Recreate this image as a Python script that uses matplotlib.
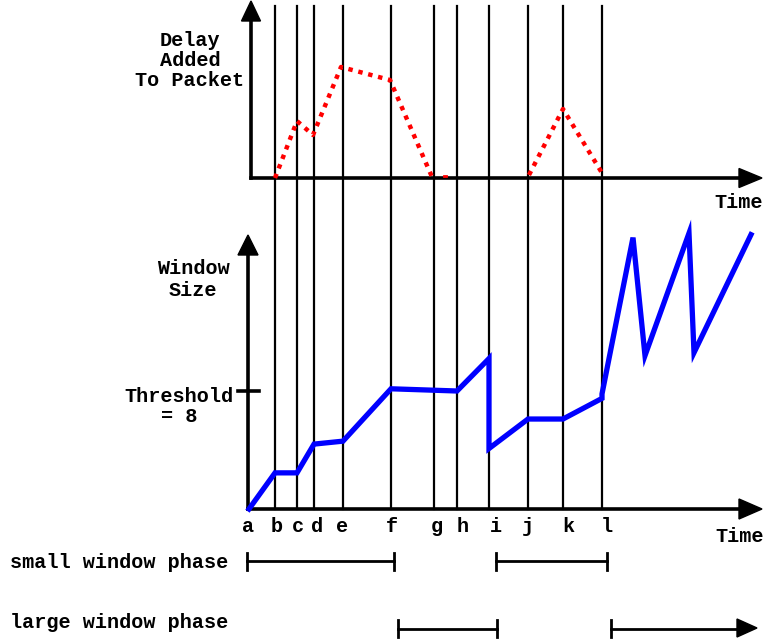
import numpy as np
import matplotlib
matplotlib.use("Agg")
import matplotlib.pyplot as plt

# event times (x position on the time axis) and their labels
events = ['a', 'b', 'c', 'd', 'e', 'f', 'g', 'h', 'i', 'j', 'k', 'l']
event_x = [249, 275, 297, 314, 343, 391, 434, 457, 489, 528, 563, 602]
label_x = [248, 277, 298, 317, 342, 392, 437, 463, 496, 528, 568, 607]

# delay added to packet (pixels above the top baseline), two bursts
delay1_t = [275, 297, 313, 341, 390, 432]
delay1_v = [0, 57, 43, 111, 98, 1]
delay2_t = [529, 563, 602]
delay2_v = [3, 69, 5]

# window size (segments), threshold = 8
win_t = [249, 275, 297, 314, 343, 391, 457, 489, 489, 528, 563, 602, 602, 633, 645, 689, 694, 751]
win_v = [0, 2.45, 2.45, 4.4, 4.6, 8.15, 8.0, 10.2, 4.1, 6.1, 6.1, 7.5, 7.8, 18.4, 10.4, 18.7, 10.6, 18.6]
threshold = 8

# phases
small_phase = [(247, 394), (496, 607)]
large_phase = [(398, 497), (611, 757)]

top_base = 178
bot_base = 509
px_per_seg = (bot_base - 391) / threshold

plt.rcParams['font.family'] = ['Liberation Mono', 'DejaVu Sans Mono']
fs = 14.5

fig = plt.figure(figsize=(7.65, 6.4), dpi=100)
ax = fig.add_axes([0, 0, 1, 1])
ax.set_xlim(0, 765)
ax.set_ylim(640, 0)
ax.axis('off')


def tri(tip, direction, length=20, half=9.5):
    x, y = tip
    if direction == 'up':
        pts = [(x, y), (x - half, y + length), (x + half, y + length)]
    else:
        pts = [(x, y), (x - length, y - half), (x - length, y + half)]
    ax.fill([p[0] for p in pts], [p[1] for p in pts], color='black', zorder=5)


# vertical event lines
for x in event_x[1:]:
    ax.plot([x, x], [6, bot_base], color='black', lw=1.6, zorder=2)

# top axes
ax.plot([251, 251], [18, top_base], color='black', lw=2.6, zorder=3)
ax.plot([251, 742], [top_base, top_base], color='black', lw=2.6, zorder=3)
tri((251, 1), 'up', 20, 9.5)
tri((762, top_base), 'right', 23, 9.5)

# bottom axes
ax.plot([248, 248], [252, bot_base], color='black', lw=2.6, zorder=3)
ax.plot([248, 742], [bot_base, bot_base], color='black', lw=2.6, zorder=3)
tri((248, 235), 'up', 20, 10)
tri((762, bot_base), 'right', 23, 10)

# threshold tick
thr_y = bot_base - threshold * px_per_seg
ax.plot([238, 259], [thr_y, thr_y], color='black', lw=2.6, zorder=3)

# delay curves
for t, v in [(delay1_t, delay1_v), (delay2_t, delay2_v)]:
    ax.plot(t, top_base - np.array(v), color='red', lw=3.2,
            linestyle=(0, (1.0, 1.3)), zorder=4)
ax.plot([444, 446], [top_base - 2, top_base - 2], color='red', lw=2, zorder=4)

# window size curve
ax.plot(win_t, bot_base - np.array(win_v) * px_per_seg, color='#0000ff',
        lw=3.8, solid_joinstyle='miter', zorder=4)

# texts
bold = dict(fontsize=fs, fontweight='bold', ha='center', va='center')
ax.text(190, 40, 'Delay', **bold)
ax.text(190, 60, 'Added', **bold)
ax.text(190, 81, 'To Packet', **bold)
ax.text(193, 269, 'Window', **bold)
ax.text(193, 290, 'Size', **bold)
ax.text(179, 396, 'Threshold', **bold)
ax.text(179, 416, '= 8', **bold)
ax.text(739, 202, 'Time', **bold)
ax.text(740, 537, 'Time', **bold)

for lab, x in zip(events, label_x):
    ax.text(x, 526, lab, **bold)

ax.text(10, 562, 'small window phase', fontsize=fs, fontweight='bold',
        ha='left', va='center')
ax.text(10, 622, 'large window phase', fontsize=fs, fontweight='bold',
        ha='left', va='center')

# phase bars
for x0, x1 in small_phase:
    ax.plot([x0, x1], [561, 561], color='black', lw=2, zorder=3)
    for x in (x0, x1):
        ax.plot([x, x], [553, 570], color='black', lw=2, zorder=3)

for i, (x0, x1) in enumerate(large_phase):
    if i < len(large_phase) - 1:
        ax.plot([x0, x1], [629, 629], color='black', lw=2, zorder=3)
        ax.plot([x1, x1], [620, 637], color='black', lw=2, zorder=3)
    else:
        ax.plot([x0, x1 - 18], [629, 629], color='black', lw=2, zorder=3)
        tri((x1, 628), 'right', 20, 9)
    ax.plot([x0, x0], [620, 637], color='black', lw=2, zorder=3)

fig.savefig('out.png', dpi=100)
